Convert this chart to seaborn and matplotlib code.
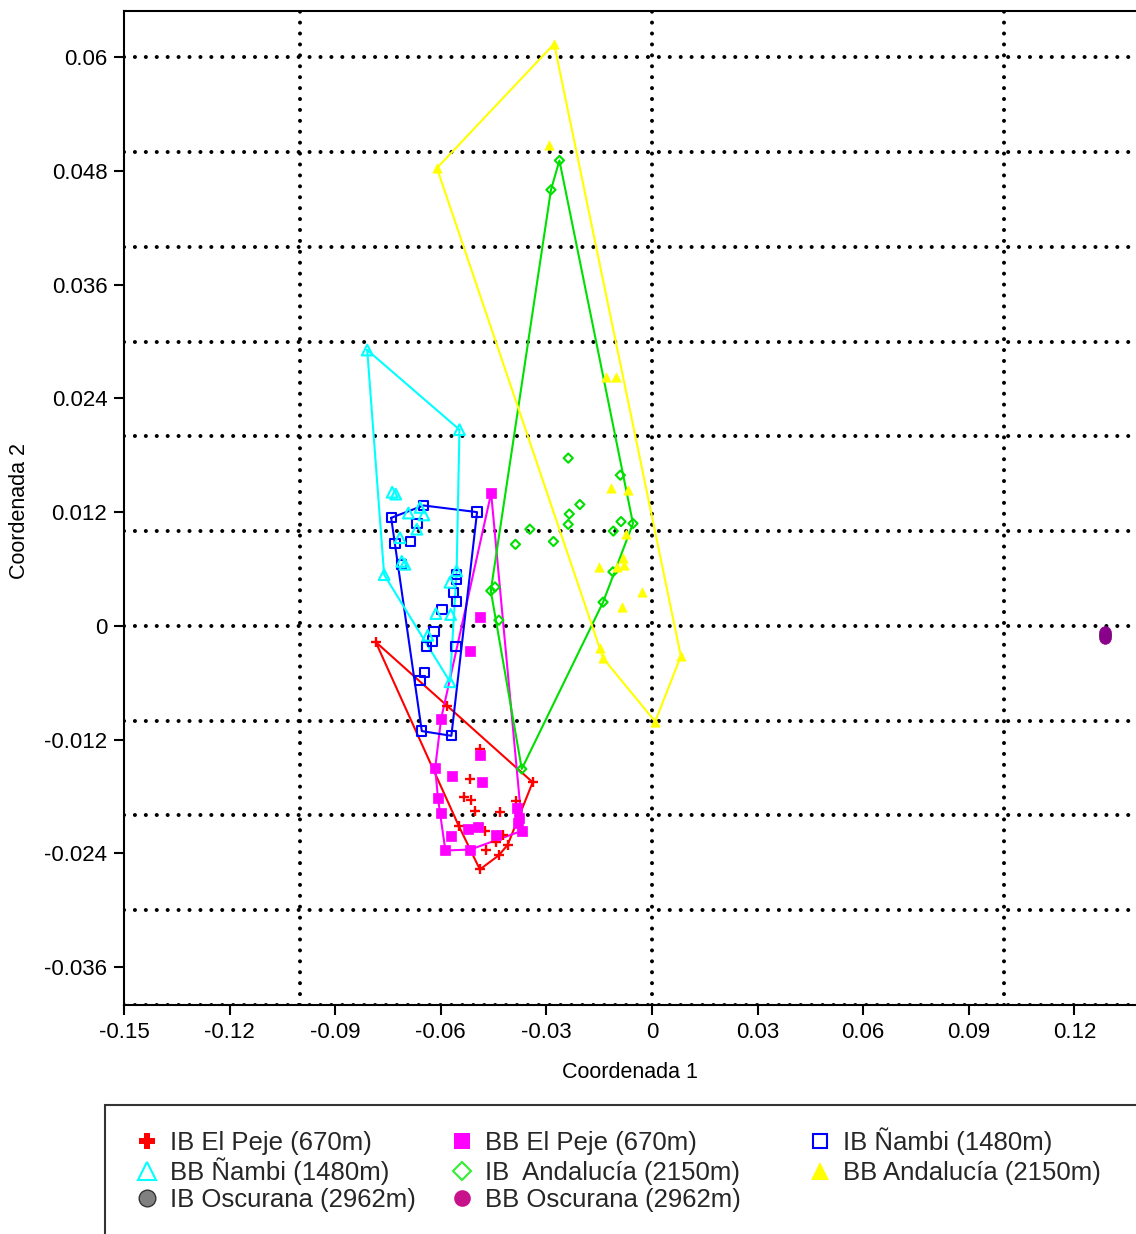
import numpy as np
import pandas as pd
import seaborn as sns
import matplotlib.pyplot as plt
from matplotlib.lines import Line2D
from matplotlib.patches import Rectangle
from matplotlib.ticker import MultipleLocator, FuncFormatter

# Coordenada 1 / Coordenada 2 for each group
ib_peje_x = [-0.0785, -0.0582, -0.0490, -0.0517, -0.0339, -0.0533, -0.0514, -0.0503, -0.0432,
             -0.0386, -0.0549, -0.0474, -0.0422, -0.0444, -0.0410, -0.0471, -0.0435, -0.0489]
ib_peje_y = [-0.0017, -0.0085, -0.0130, -0.0162, -0.0165, -0.0181, -0.0184, -0.0195, -0.0196,
             -0.0185, -0.0211, -0.0216, -0.0221, -0.0228, -0.0231, -0.0237, -0.0242, -0.0257]

bb_peje_x = [-0.0457, -0.0488, -0.0516, -0.0599, -0.0488, -0.0616, -0.0567, -0.0482, -0.0608, -0.0599,
             -0.0384, -0.0377, -0.0380, -0.0523, -0.0494, -0.0570, -0.0444, -0.0368, -0.0587, -0.0516]
bb_peje_y = [0.0140, 0.0009, -0.0026, -0.0098, -0.0136, -0.0150, -0.0158, -0.0165, -0.0182, -0.0197,
             -0.0192, -0.0203, -0.0208, -0.0214, -0.0212, -0.0222, -0.0221, -0.0216, -0.0237, -0.0236]

ib_nambi_x = [-0.0741, -0.0649, -0.0497, -0.0668, -0.0730, -0.0686, -0.0711, -0.0555, -0.0555, -0.0564,
              -0.0555, -0.0597, -0.0619, -0.0624, -0.0640, -0.0557, -0.0646, -0.0659, -0.0654, -0.0570]
ib_nambi_y = [0.0114, 0.0127, 0.0120, 0.0108, 0.0087, 0.0089, 0.0065, 0.0054, 0.0049, 0.0035,
              0.0026, 0.0017, -0.0006, -0.0016, -0.0022, -0.0022, -0.0049, -0.0058, -0.0111, -0.0116]

bb_nambi_x = [-0.0809, -0.0547, -0.0738, -0.0728, -0.0692, -0.0659, -0.0648, -0.0668, -0.0716,
              -0.0711, -0.0702, -0.0761, -0.0555, -0.0574, -0.0614, -0.0572, -0.0637, -0.0574]
bb_nambi_y = [0.0291, 0.0207, 0.0141, 0.0139, 0.0119, 0.0125, 0.0117, 0.0102, 0.0093,
              0.0068, 0.0065, 0.0054, 0.0058, 0.0046, 0.0013, 0.0012, -0.0010, -0.0059]

ib_andalucia_x = [-0.0263, -0.0287, -0.0238, -0.0090, -0.0205, -0.0235, -0.0238, -0.0088, -0.0054, -0.0347,
                  -0.0110, -0.0388, -0.0280, -0.0111, -0.0139, -0.0458, -0.0446, -0.0435, -0.0370]
ib_andalucia_y = [0.0491, 0.0460, 0.0177, 0.0159, 0.0128, 0.0118, 0.0107, 0.0110, 0.0108, 0.0102,
                  0.0100, 0.0086, 0.0089, 0.0057, 0.0025, 0.0037, 0.0041, 0.0006, -0.0151]

bb_andalucia_x = [-0.0278, -0.0611, -0.0292, -0.0132, -0.0102, -0.0116, -0.0069, -0.0075, -0.0083,
                  -0.0099, -0.0079, -0.0151, -0.0028, -0.0084, -0.0148, -0.0139, 0.0082, 0.0009]
bb_andalucia_y = [0.0614, 0.0483, 0.0507, 0.0263, 0.0263, 0.0145, 0.0143, 0.0097, 0.0072,
                  0.0062, 0.0064, 0.0062, 0.0036, 0.0020, -0.0023, -0.0034, -0.0032, -0.0101]

ib_oscurana_x = [0.1287]
ib_oscurana_y = [-0.0010]

bb_oscurana_x = [0.1287, 0.1287]
bb_oscurana_y = [-0.0006, -0.0013]

labels = ['IB El Peje (670m)', 'BB El Peje (670m)', 'IB Ñambi (1480m)', 'BB Ñambi (1480m)',
          'IB  Andalucía (2150m)', 'BB Andalucía (2150m)', 'IB Oscurana (2962m)', 'BB Oscurana (2962m)']
xs = [ib_peje_x, bb_peje_x, ib_nambi_x, bb_nambi_x, ib_andalucia_x, bb_andalucia_x, ib_oscurana_x, bb_oscurana_x]
ys = [ib_peje_y, bb_peje_y, ib_nambi_y, bb_nambi_y, ib_andalucia_y, bb_andalucia_y, ib_oscurana_y, bb_oscurana_y]

df = pd.concat([pd.DataFrame({'grupo': g, 'c1': x, 'c2': y}) for g, x, y in zip(labels, xs, ys)],
               ignore_index=True)

# marker, size, face, edge, line width, draw hull
styles = {
    'IB El Peje (670m)':     dict(marker='+', s=60, fc='#FF0000', ec='#FF0000', lw=1.7, hull=True),
    'BB El Peje (670m)':     dict(marker='s', s=55, fc='#FF00FF', ec='#FF00FF', lw=0.5, hull=True),
    'IB Ñambi (1480m)':      dict(marker='s', s=45, fc='none', ec='#0000FF', lw=1.5, hull=True),
    'BB Ñambi (1480m)':      dict(marker='^', s=60, fc='none', ec='#00FFFF', lw=1.5, hull=True),
    'IB  Andalucía (2150m)': dict(marker='D', s=22, fc='none', ec='#00E000', lw=1.5, hull=True),
    'BB Andalucía (2150m)':  dict(marker='^', s=45, fc='#FFFF00', ec='#FFFF00', lw=0.5, hull=True),
    'IB Oscurana (2962m)':   dict(marker='o', s=70, fc='#808080', ec='#404040', lw=1.0, hull=False),
    'BB Oscurana (2962m)':   dict(marker='o', s=70, fc='#8B008B', ec='#8B008B', lw=0.5, hull=False),
}


def convex_hull(px, py):
    pts = sorted(set(zip(px, py)))
    if len(pts) < 3:
        return None

    def cross(o, a, b):
        return (a[0] - o[0]) * (b[1] - o[1]) - (a[1] - o[1]) * (b[0] - o[0])

    lower, upper = [], []
    for p in pts:
        while len(lower) >= 2 and cross(lower[-2], lower[-1], p) <= 0:
            lower.pop()
        lower.append(p)
    for p in reversed(pts):
        while len(upper) >= 2 and cross(upper[-2], upper[-1], p) <= 0:
            upper.pop()
        upper.append(p)
    h = lower[:-1] + upper[:-1]
    h.append(h[0])
    return np.array(h)


sns.set_style('ticks')
plt.rcParams['font.family'] = ['Liberation Sans', 'DejaVu Sans']

fig = plt.figure(figsize=(11.36, 12.34), dpi=100)
ax = fig.add_axes([124 / 1136, 1 - 1005 / 1234, (1136 - 124) / 1136, (1005 - 10.7) / 1234])

for g in labels:
    st = styles[g]
    sub = df[df['grupo'] == g]
    if st['hull']:
        h = convex_hull(sub['c1'].tolist(), sub['c2'].tolist())
        ax.plot(h[:, 0], h[:, 1], color=st['ec'], lw=1.5, zorder=2)
    sns.scatterplot(data=sub, x='c1', y='c2', marker=st['marker'], s=st['s'],
                    facecolor=st['fc'], edgecolor=st['ec'], linewidth=st['lw'],
                    ax=ax, zorder=3, legend=False)

ax.set_xlim(-0.15, 0.1375)
ax.set_ylim(-0.04, 0.0649)

fmt = FuncFormatter(lambda v, p: '0' if abs(v) < 1e-9 else '%g' % round(v, 3))
ax.xaxis.set_major_locator(MultipleLocator(0.03))
ax.yaxis.set_major_locator(MultipleLocator(0.012))
ax.xaxis.set_major_formatter(fmt)
ax.yaxis.set_major_formatter(fmt)

# dotted grid at 0.1 (x) and 0.01 (y)
ax.xaxis.set_minor_locator(MultipleLocator(0.1))
ax.yaxis.set_minor_locator(MultipleLocator(0.01))
ax.xaxis.remove_overlapping_locs = False
ax.yaxis.remove_overlapping_locs = False
ax.grid(False, which='major')
ax.grid(True, which='minor', color='black', linestyle=(0, (0.01, 2.7)),
        linewidth=2.9, dash_capstyle='round')
ax.set_axisbelow(True)

ax.tick_params(which='minor', length=0)
ax.tick_params(which='major', direction='out', length=7, width=1.5, labelsize=16,
               color='black', labelcolor='black', pad=5)

for side in ['left', 'bottom', 'top']:
    ax.spines[side].set_color('black')
    ax.spines[side].set_linewidth(1.5)
ax.spines['right'].set_visible(False)

ax.set_xlabel('Coordenada 1', fontsize=15.5, color='black')
ax.set_ylabel('Coordenada 2', fontsize=15.5, color='black')
ax.xaxis.set_label_coords(0.5, -(1073 - 1005) / 995)
ax.xaxis.label.set_verticalalignment('center')
ax.yaxis.set_label_coords((20 - 124) / 1012, (1005 - 511) / 995)
ax.yaxis.label.set_verticalalignment('center')

# legend box, running past the bottom and right of the figure
fig.add_artist(Rectangle((105 / 1136, -0.1), 1.0, 0.1 + 1 - 1105 / 1234,
                         transform=fig.transFigure, fill=False, edgecolor='#333333', lw=1.5))

legend_face = {
    'IB El Peje (670m)': dict(marker='P', markersize=11, markerfacecolor='#FF0000', markeredgecolor='#FF0000', markeredgewidth=0),
    'BB El Peje (670m)': dict(marker='s', markersize=12, markerfacecolor='#FF00FF', markeredgecolor='#FF00FF', markeredgewidth=0),
    'IB Ñambi (1480m)': dict(marker='s', markersize=10.5, markerfacecolor='none', markeredgecolor='#0000FF', markeredgewidth=1.5),
    'BB Ñambi (1480m)': dict(marker='^', markersize=12.5, markerfacecolor='none', markeredgecolor='#00FFFF', markeredgewidth=1.5),
    'IB  Andalucía (2150m)': dict(marker='D', markersize=9, markerfacecolor='none', markeredgecolor='#33EE33', markeredgewidth=1.5),
    'BB Andalucía (2150m)': dict(marker='^', markersize=13, markerfacecolor='#FFFF00', markeredgecolor='#FFFF00', markeredgewidth=0),
    'IB Oscurana (2962m)': dict(marker='o', markersize=12, markerfacecolor='#808080', markeredgecolor='#333333', markeredgewidth=1),
    'BB Oscurana (2962m)': dict(marker='o', markersize=12, markerfacecolor='#C8128C', markeredgecolor='#C8128C', markeredgewidth=0),
}

# legend grid: marker centre x per column, text centre y per row (pixels)
col_x = [147, 462, 820]
row_y = [1141, 1171, 1198]
legend_cells = [
    ('IB El Peje (670m)', 0, 0), ('BB El Peje (670m)', 1, 0), ('IB Ñambi (1480m)', 2, 0),
    ('BB Ñambi (1480m)', 0, 1), ('IB  Andalucía (2150m)', 1, 1), ('BB Andalucía (2150m)', 2, 1),
    ('IB Oscurana (2962m)', 0, 2), ('BB Oscurana (2962m)', 1, 2),
]
leg_fs = 18.5
hl_px = 1.0 * leg_fs * 100 / 72
for name, c, r in legend_cells:
    handle = Line2D([], [], linestyle='none', **legend_face[name])
    # anchor at the bottom so every label shares the same baseline
    fig.legend([handle], [name], loc='lower left',
               bbox_to_anchor=((col_x[c] - hl_px / 2) / 1136, 1 - (row_y[r] + 14) / 1234),
               frameon=False, fontsize=leg_fs, handlelength=1.0, handletextpad=0.4,
               borderpad=0, borderaxespad=0)

fig.savefig('out.png', dpi=100, facecolor='white')
